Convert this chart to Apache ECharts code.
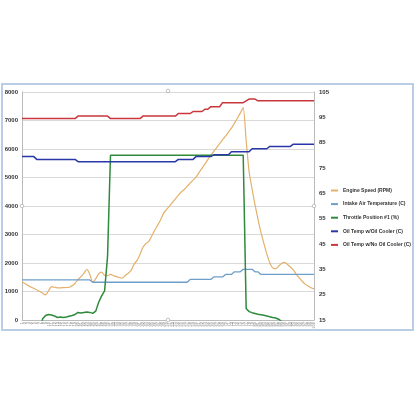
<!DOCTYPE html>
<html>
<head>
<meta charset="utf-8">
<script src="https://cdn.jsdelivr.net/npm/echarts@6/dist/echarts.min.js"></script>
<style>
html,body{margin:0;padding:0;background:#fff;}
#c{width:416px;height:416px;}
</style>
</head>
<body>
<div id="c"></div>
<script>
// ---- data ----
const categories = Array.from({length: 100}, (_, i) => String(i + 1));

const engineSpeed = [1345,1280,1215,1160,1110,1060,1000,940,880,1030,
1170,1150,1130,1130,1135,1140,1150,1200,1290,1420,
1520,1640,1780,1600,1320,1450,1620,1680,1570,1560,
1600,1560,1520,1490,1470,1560,1640,1740,1960,2090,
2300,2550,2680,2760,2950,3150,3330,3520,3750,3870,
4000,4130,4250,4380,4490,4580,4690,4800,4910,5010,
5170,5320,5470,5630,5780,5920,6050,6190,6320,6450,
6590,6730,6900,7080,7260,7450,6300,5200,4600,4040,
3540,3080,2690,2320,2010,1830,1800,1890,1980,2020,
1950,1860,1760,1600,1480,1360,1260,1190,1130,1090];

const intakeAirTemp = [
30.8,30.8,30.8,30.8,30.8,30.8,30.8,30.8,30.8,30.8,30.8,30.8,30.8,30.8,30.8,30.8,30.8,30.8,30.8,30.8,30.8,30.8,30.8,30.8,
29.9,29.9,29.9,29.9,29.9,29.9,29.9,29.9,29.9,29.9,29.9,29.9,29.9,29.9,29.9,29.9,29.9,29.9,29.9,29.9,29.9,29.9,29.9,29.9,29.9,29.9,29.9,29.9,29.9,29.9,29.9,29.9,29.9,
31.0,31.0,31.0,31.0,31.0,31.0,31.0,31.0,
32.0,32.0,32.0,32.0,
33.0,33.0,33.0,
34.0,34.0,34.0,
35.0,35.0,35.0,35.0,
34.0,34.0,
33.0,33.0,33.0,33.0,33.0,33.0,33.0,33.0,33.0,33.0,33.0,33.0,33.0,33.0,33.0,33.0,33.0,33.0,33.0];

const throttlePosition = [
10,10,10,10,10,10,10,
15.5,16.8,17.2,17.0,16.6,16.0,16.2,16.0,16.2,16.5,16.8,17.2,18.0,17.8,18.0,18.2,18.0,17.6,18.5,22.0,24.5,26.5,40,
80,80,80,80,80,80,80,80,80,80,80,80,80,80,80,80,80,80,80,80,80,80,80,80,80,80,80,80,80,80,80,80,80,80,80,80,80,80,80,80,80,80,80,80,80,80,
19.5,18.3,17.9,17.6,17.3,17.1,16.9,16.6,16.3,16.0,15.8,15.3,
14.5,
10,10,10,10,10,10,10,10,10,10,10];

const oilTempCooler = [
79.5,79.5,79.5,79.5,79.5,
78.4,78.4,78.4,78.4,78.4,78.4,78.4,78.4,78.4,78.4,78.4,78.4,78.4,78.4,
77.5,77.5,77.5,77.5,77.5,77.5,77.5,77.5,77.5,77.5,77.5,77.5,77.5,77.5,77.5,77.5,77.5,77.5,77.5,77.5,77.5,77.5,77.5,77.5,77.5,77.5,77.5,77.5,77.5,77.5,77.5,77.5,77.5,77.5,
78.4,78.4,78.4,78.4,78.4,78.4,
79.5,79.5,79.5,79.5,79.5,79.5,
80.2,80.2,80.2,80.2,80.2,80.2,
81.4,81.4,81.4,81.4,81.4,81.4,81.4,
82.6,82.6,82.6,82.6,82.6,82.6,
83.5,83.5,83.5,83.5,83.5,83.5,83.5,83.5,
84.4,84.4,84.4,84.4,84.4,84.4,84.4,84.4];

const oilTempNoCooler = [
94.5,94.5,94.5,94.5,94.5,94.5,94.5,94.5,94.5,94.5,94.5,94.5,94.5,94.5,94.5,94.5,94.5,94.5,94.5,
95.5,95.5,95.5,95.5,95.5,95.5,95.5,95.5,95.5,95.5,95.5,
94.5,94.5,94.5,94.5,94.5,94.5,94.5,94.5,94.5,94.5,94.5,
95.5,95.5,95.5,95.5,95.5,95.5,95.5,95.5,95.5,95.5,95.5,95.5,
96.5,96.5,96.5,96.5,96.5,
97.3,97.3,97.3,97.3,
98.2,98.2,
99.2,99.2,99.2,99.2,
100.8,100.8,100.8,100.8,100.8,100.8,100.8,100.8,
101.5,
102.2,102.2,102.2,
101.5,101.5,101.5,101.5,101.5,101.5,101.5,101.5,101.5,101.5,101.5,101.5,101.5,101.5,101.5,101.5,101.5,101.5,101.5,101.5];

const seriesNames = ['Engine Speed (RPM)','Intake Air Temperature (C)','Throttle Position #1 (%)','Oil Temp w/Oil Cooler (C)','Oil Temp w/No Oil Cooler (C)'];
const leftTicks = {min: 0, max: 8000, interval: 1000};
const rightTicks = {min: 15, max: 105, interval: 10};

// ---- chart ----
const colors = ['#E4B06A', '#6E9FC9', '#2E8A3C', '#2A37A8', '#C9363C'];
const chart = echarts.init(document.getElementById('c'), null, {renderer: 'canvas'});

function line(name, data, yIdx, color, width, smooth) {
  return {
    name, type: 'line', data, yAxisIndex: yIdx, showSymbol: false, symbol: 'none',
    smooth: smooth || false, clip: true,
    lineStyle: {color, width}, itemStyle: {color}, z: 3
  };
}

const handles = [[168, 91], [168, 320], [22, 206], [314, 206]].map(p => ({
  type: 'circle', shape: {cx: p[0], cy: p[1], r: 1.8},
  style: {fill: '#fff', stroke: '#aaa', lineWidth: 0.7}, z: 100
}));

chart.setOption({
  animation: false,
  backgroundColor: '#fff',
  graphic: [{
    type: 'rect', shape: {x: 2, y: 84, width: 411, height: 246},
    style: {fill: '#fff', stroke: '#B9CEE6', lineWidth: 2}, z: -10, silent: true
  }].concat(handles),
  grid: {left: 22, right: 102, top: 92, bottom: 96, containLabel: false},
  legend: {
    data: seriesNames, orient: 'vertical', left: 331, top: 187,
    itemWidth: 7, itemHeight: 2, itemGap: 6.6, icon: 'rect',
    textStyle: {fontSize: 5, lineHeight: 7, fontWeight: 'bold', color: '#333', fontFamily: 'Liberation Sans'},
    padding: 0
  },
  xAxis: {
    type: 'category', data: categories, boundaryGap: false,
    axisLine: {lineStyle: {color: '#bbb', width: 1}},
    axisTick: {show: false},
    axisLabel: {interval: 0, rotate: 90, fontSize: 4, color: '#777', margin: 2}
  },
  yAxis: [{
    type: 'value', min: leftTicks.min, max: leftTicks.max, interval: leftTicks.interval,
    axisLine: {show: true, lineStyle: {color: '#bbb'}},
    axisTick: {show: false},
    axisLabel: {fontSize: 6, fontWeight: 'bold', color: '#333', margin: 4, fontFamily: 'Liberation Sans',
      formatter: v => String(v)},
    splitLine: {lineStyle: {color: '#d9d9d9', width: 1}}
  }, {
    type: 'value', min: rightTicks.min, max: rightTicks.max, interval: rightTicks.interval,
    position: 'right',
    axisLine: {show: true, lineStyle: {color: '#bbb'}},
    axisTick: {show: false},
    axisLabel: {fontSize: 6, fontWeight: 'bold', color: '#333', margin: 5, fontFamily: 'Liberation Sans',
      formatter: v => String(v)},
    splitLine: {show: false}
  }],
  series: [
    line(seriesNames[0], engineSpeed, 0, colors[0], 1.2, 0.2),
    line(seriesNames[1], intakeAirTemp, 1, colors[1], 1.3),
    line(seriesNames[2], throttlePosition, 1, colors[2], 1.5),
    line(seriesNames[3], oilTempCooler, 1, colors[3], 1.5),
    line(seriesNames[4], oilTempNoCooler, 1, colors[4], 1.5)
  ]
});
</script>
</body>
</html>
